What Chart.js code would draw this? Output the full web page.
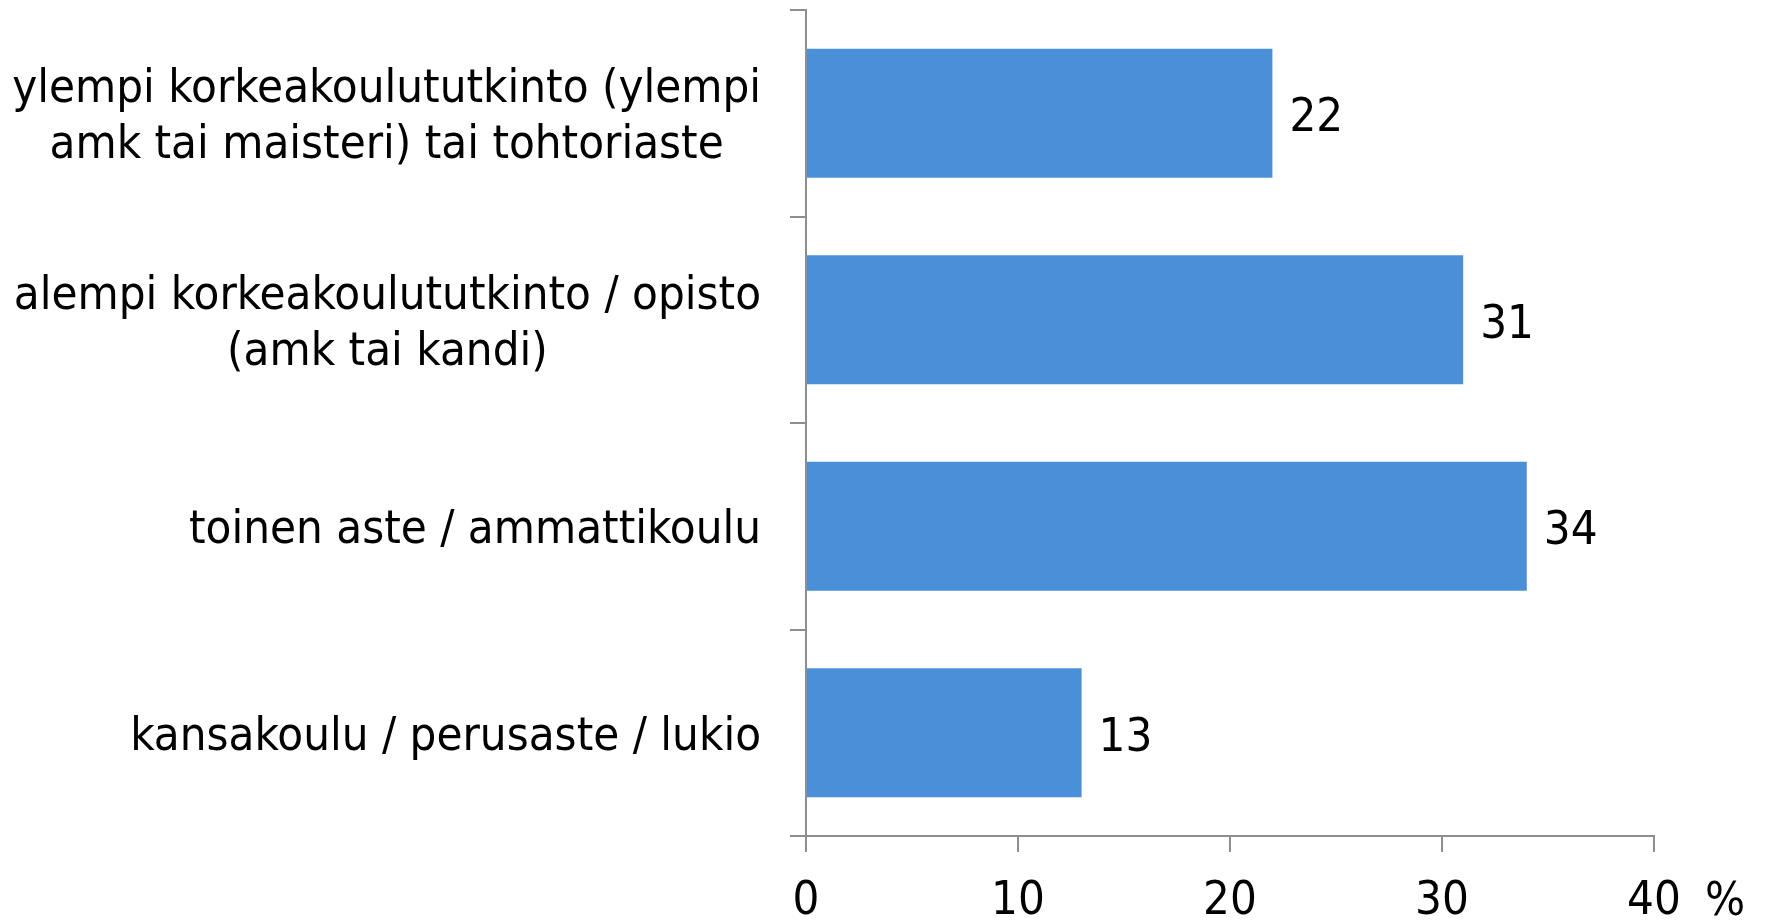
<!DOCTYPE html>
<html>
<head>
<meta charset="utf-8">
<script src="https://cdn.jsdelivr.net/npm/chart.js@4.4.1/dist/chart.umd.min.js"></script>
<style>
  html, body { margin: 0; padding: 0; background: #fff; }
  #wrap { width: 1768px; height: 920px; position: relative; }
</style>
</head>
<body>
<div id="wrap"><canvas id="eduChart"></canvas></div>
<script>
const categories = [
  ['ylempi korkeakoulututkinto (ylempi', 'amk tai maisteri) tai tohtoriaste'],
  ['alempi korkeakoulututkinto / opisto', '(amk tai kandi)'],
  ['toinen aste / ammattikoulu'],
  ['kansakoulu / perusaste / lukio']
];
const shares = [22, 31, 34, 13];
const xTicks = [0, 10, 20, 30, 40];
const unitLabel = '%';

const fontFamily = '"DejaVu Sans Condensed", "DejaVu Sans", sans-serif';
const axisGrey = '#8e8e8e';
const labelRight = 761;
const lineH = 56;

// category labels (centred lines, right edge fixed), value labels, % sign
const labelPlugin = {
  id: 'barLabels',
  afterDatasetsDraw(chart) {
    const ctx = chart.ctx;
    const ys = chart.scales.y;
    const xs = chart.scales.x;
    ctx.save();
    ctx.font = '47px ' + fontFamily;
    ctx.fillStyle = '#000';
    ctx.textBaseline = 'middle';

    ctx.textAlign = 'center';
    categories.forEach((lines, i) => {
      const cy = ys.getPixelForValue(i) + 5;
      const w = Math.max(...lines.map(l => ctx.measureText(l).width));
      const cx = labelRight - w / 2;
      lines.forEach((l, k) => {
        ctx.fillText(l, cx, cy + (k - (lines.length - 1) / 2) * lineH);
      });
    });

    ctx.textAlign = 'left';
    chart.getDatasetMeta(0).data.forEach((bar, i) => {
      ctx.fillText(String(shares[i]), bar.x + 17, bar.y + 6);
    });
    ctx.fillText(unitLabel, xs.getPixelForValue(xTicks[xTicks.length - 1]) + 51, xs.top + 67);
    ctx.restore();
  }
};

const ctx = document.getElementById('eduChart').getContext('2d');

new Chart(ctx, {
  type: 'bar',
  data: {
    labels: categories.map(c => c.join(' ')),
    datasets: [{
      data: shares,
      backgroundColor: '#4a90d9',
      borderWidth: 0,
      categoryPercentage: 1,
      barPercentage: 0.625
    }]
  },
  options: {
    indexAxis: 'y',
    responsive: true,
    maintainAspectRatio: false,
    animation: false,
    layout: {
      padding: { top: 10, right: 114, left: 0, bottom: 0 }
    },
    plugins: {
      legend: { display: false },
      tooltip: { enabled: false }
    },
    scales: {
      y: {
        afterFit: s => { s.width = 806; s.paddingTop = 0; s.paddingBottom = 0; },
        grid: {
          offset: true,
          drawOnChartArea: false,
          tickLength: 16,
          color: axisGrey,
          lineWidth: 2
        },
        border: { color: axisGrey, width: 2 },
        ticks: { display: false }
      },
      x: {
        min: 0,
        max: 40,
        afterFit: s => { s.height = 84; },
        afterBuildTicks: s => { s.ticks = xTicks.map(v => ({ value: v })); },
        grid: {
          drawOnChartArea: false,
          tickLength: 16,
          color: axisGrey,
          lineWidth: 2
        },
        border: { color: axisGrey, width: 2 },
        ticks: {
          color: '#000',
          padding: 22,
          maxRotation: 0,
          font: { family: fontFamily, size: 47, lineHeight: 1.2 }
        }
      }
    }
  },
  plugins: [labelPlugin]
});
</script>
</body>
</html>
